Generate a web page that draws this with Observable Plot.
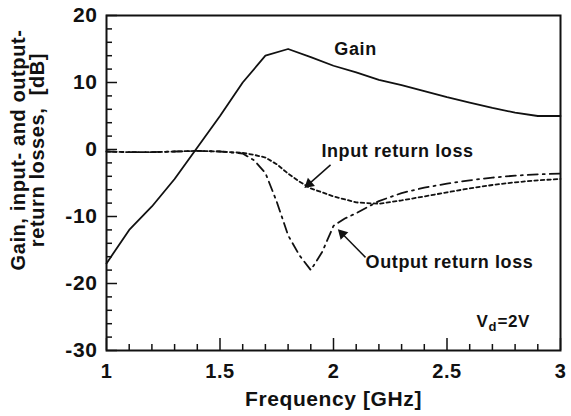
<!DOCTYPE html>
<html>
<head>
<meta charset="utf-8">
<script src="https://cdn.jsdelivr.net/npm/d3@7"></script>
<script src="https://cdn.jsdelivr.net/npm/@observablehq/plot@0.6"></script>
<style>
  html, body { margin: 0; padding: 0; background: #fff; }
  svg { display: block; }
</style>
</head>
<body>
<div id="chart"></div>
<script>
// ---- data ----
const gainFreq = [1.0, 1.1, 1.2, 1.3, 1.4, 1.5, 1.6, 1.7, 1.8, 1.9, 2.0, 2.1, 2.2, 2.3, 2.4, 2.5, 2.6, 2.7, 2.8, 2.9, 3.0];
const gainDb   = [-17, -12, -8.5, -4.4, 0.3, 5.0, 10.0, 14.0, 15.0, 13.8, 12.5, 11.5, 10.4, 9.6, 8.7, 7.8, 7.0, 6.2, 5.5, 5.0, 5.0];

const inFreq = [1.0, 1.1, 1.2, 1.3, 1.4, 1.5, 1.6, 1.65, 1.7, 1.75, 1.8, 1.85, 1.9, 2.0, 2.1, 2.2, 2.3, 2.4, 2.5, 2.6, 2.7, 2.8, 2.9, 3.0];
const inDb   = [-0.3, -0.4, -0.4, -0.3, -0.2, -0.3, -0.5, -0.8, -1.2, -2.2, -3.6, -4.8, -5.8, -7.0, -7.9, -8.1, -7.6, -7.0, -6.4, -5.8, -5.3, -4.9, -4.6, -4.4];

const outFreq = [1.0, 1.1, 1.2, 1.3, 1.4, 1.5, 1.6, 1.65, 1.7, 1.75, 1.8, 1.85, 1.9, 1.95, 2.0, 2.05, 2.1, 2.2, 2.3, 2.4, 2.5, 2.6, 2.7, 2.8, 2.9, 3.0];
const outDb   = [-0.3, -0.4, -0.4, -0.3, -0.2, -0.3, -0.6, -1.6, -3.5, -7.8, -12.8, -15.8, -18.0, -15.3, -11.4, -10.3, -9.5, -7.7, -6.5, -5.7, -5.1, -4.6, -4.2, -3.9, -3.7, -3.6];

const xMajorTicks = [1, 1.5, 2, 2.5, 3];
const xMinorTicks = [1.1, 1.2, 1.3, 1.4, 1.6, 1.7, 1.8, 1.9, 2.1, 2.2, 2.3, 2.4, 2.6, 2.7, 2.8, 2.9];
const yMajorTicks = [20, 10, 0, -10, -20, -30];
const yMinorTicks = [18, 16, 14, 12, 8, 6, 4, 2, -2, -4, -6, -8, -12, -14, -16, -18, -22, -24, -26, -28];

const labelText = ["Gain", "Input return loss", "Output return loss"];
const labelFreq = [2.097, 2.282, 2.511];
const labelDb   = [14.9, -0.2, -16.8];

// annotation arrows: start, tip, and head orientation (degrees)
const arrowFrom = [[1.987, -2.3], [2.141, -16.1]];
const arrowTo   = [[1.877, -5.6], [2.022, -12.0]];
const arrowHeadAngle = [229, -45];

const xTitle = "Frequency [GHz]";
const yTitle = "Gain, input- and output-\nreturn losses,  [dB]";

// ---- build tables ----
const gain = gainFreq.map((f, i) => ({f, v: gainDb[i]}));
const inRL = inFreq.map((f, i) => ({f, v: inDb[i]}));
const outRL = outFreq.map((f, i) => ({f, v: outDb[i]}));
const labels = labelText.map((t, i) => ({t, f: labelFreq[i], v: labelDb[i]}));
const arrows = arrowFrom.map((a, i) => ({
  x1: a[0], y1: a[1], x2: arrowTo[i][0], y2: arrowTo[i][1],
  // head placed a little behind the tip so its point lands on the tip
  hx: a[0] + (arrowTo[i][0] - a[0]) * 0.86,
  hy: a[1] + (arrowTo[i][1] - a[1]) * 0.86,
  rot: arrowHeadAngle[i]
}));
const fmt = d => String(d);

const chart = Plot.plot({
  width: 571,
  height: 416,
  marginLeft: 106,
  marginRight: 11,
  marginTop: 15,
  marginBottom: 66,
  x: {domain: [1, 3]},
  y: {domain: [-30, 20]},
  style: {fontFamily: "'Liberation Sans', Arial, sans-serif", fontWeight: "bold", background: "#fff", color: "#111", overflow: "visible", letterSpacing: "0.6px"},
  marks: [
    // axes: inward ticks
    Plot.axisX({ticks: xMinorTicks, tickSize: -6, tickFormat: () => "", label: null, strokeWidth: 1.5}),
    Plot.axisX({ticks: xMajorTicks, tickSize: -12, tickFormat: () => "", label: null, strokeWidth: 1.5}),
    Plot.axisX({ticks: xMajorTicks, tickSize: 0, tickPadding: 13, tickFormat: fmt, label: null, fontSize: 20, fontWeight: "bold"}),
    Plot.axisY({ticks: yMinorTicks, tickSize: -6, tickFormat: () => "", label: null, strokeWidth: 1.5}),
    Plot.axisY({ticks: yMajorTicks, tickSize: -11, tickFormat: () => "", label: null, strokeWidth: 1.5}),
    Plot.axisY({ticks: yMajorTicks, tickSize: 0, tickPadding: 9, tickFormat: fmt, label: null, fontSize: 21, fontWeight: "bold"}),
    Plot.frame({stroke: "#111", strokeWidth: 2}),
    // curves
    Plot.line(gain, {x: "f", y: "v", stroke: "#111", strokeWidth: 1.8}),
    Plot.line(inRL, {x: "f", y: "v", stroke: "#111", strokeWidth: 1.8, strokeDasharray: "3.5,3"}),
    Plot.line(outRL, {x: "f", y: "v", stroke: "#111", strokeWidth: 1.8, strokeDasharray: "10,5,2,5"}),
    // annotations
    Plot.text(labels, {x: "f", y: "v", text: "t", fontSize: 18, fontWeight: "bold", fill: "#111"}),
    Plot.link(arrows, {x1: "x1", y1: "y1", x2: "hx", y2: "hy", stroke: "#111", strokeWidth: 1.5}),
    Plot.dot(arrows, {x: "hx", y: "hy", symbol: "triangle", rotate: "rot", r: 4, fill: "#111", stroke: "none"}),
    Plot.text(["V"], {frameAnchor: "bottom-right", dx: -84, dy: -24, textAnchor: "start", lineAnchor: "bottom", fontSize: 17, fontWeight: "bold", fill: "#111"}),
    Plot.text(["d"], {frameAnchor: "bottom-right", dx: -72, dy: -20, textAnchor: "start", lineAnchor: "bottom", fontSize: 13, fontWeight: "bold", fill: "#111"}),
    Plot.text(["=2V"], {frameAnchor: "bottom-right", dx: -63, dy: -24, textAnchor: "start", lineAnchor: "bottom", fontSize: 17, fontWeight: "bold", fill: "#111"}),
    // axis titles
    Plot.text([xTitle], {frameAnchor: "bottom", dy: 49, lineAnchor: "middle", textAnchor: "middle", fontSize: 21, fontWeight: "bold", fill: "#111"}),
    Plot.text([yTitle], {frameAnchor: "left", dx: -78, dy: -33, rotate: -90, textAnchor: "middle", lineAnchor: "middle", lineHeight: 0.95, fontSize: 20, fontWeight: "bold", fill: "#111"})
  ]
});
document.getElementById("chart").appendChild(chart);
</script>
</body>
</html>
